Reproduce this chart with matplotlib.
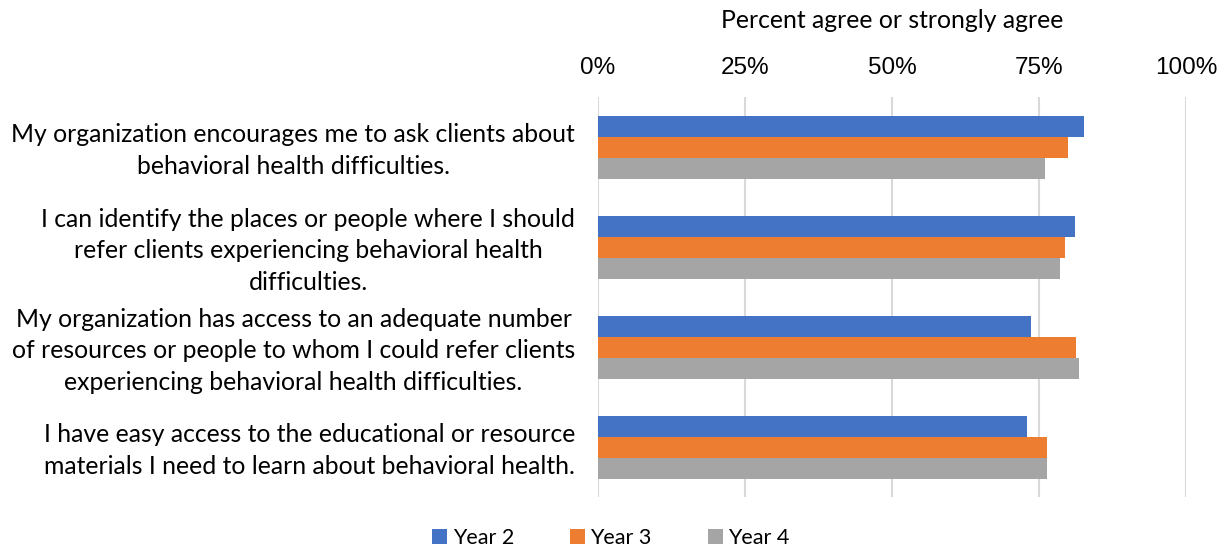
import matplotlib
matplotlib.use("Agg")
import matplotlib.pyplot as plt
import matplotlib.transforms as mtransforms
from matplotlib.patches import Patch

# Survey items (top to bottom) and percent agreeing by year
statements = [
    "My organization encourages me to ask clients about\nbehavioral health difficulties.",
    "I can identify the places or people where I should\nrefer clients experiencing behavioral health\ndifficulties.",
    "My organization has access to an adequate number\nof resources or people to whom I could refer clients\nexperiencing behavioral health difficulties.",
    "I have easy access to the educational or resource\nmaterials I need to learn about behavioral health.",
]
year2 = [82.7, 81.1, 73.6, 73.0]
year3 = [79.9, 79.4, 81.3, 76.4]
year4 = [76.0, 78.6, 81.8, 76.4]
series_labels = ["Year 2", "Year 3", "Year 4"]
series_colors = ["#4472C4", "#ED7D31", "#A5A5A5"]
xticks = [0, 25, 50, 75, 100]

label_font = ["Lato", "DejaVu Sans"]
tick_font = ["Liberation Sans Narrow", "Liberation Sans", "DejaVu Sans"]

fig = plt.figure(figsize=(12.26, 5.5), dpi=100)
ax = fig.add_axes([0.4878, 0.0955, 0.4796, 0.7273])

bar_h = 0.21
offsets = [-bar_h, 0, bar_h]
for vals, off, lab, col in zip([year2, year3, year4], offsets, series_labels, series_colors):
    ax.barh([i + off for i in range(len(statements))], vals, height=bar_h,
            color=col, label=lab, zorder=2)

ax.set_xlim(0, 100)
ax.set_ylim(len(statements) - 0.5, -0.5)

ax.xaxis.tick_top()
ax.set_xticks(xticks)
ax.set_xticklabels([f"{t}%" for t in xticks], family=tick_font, fontsize=17.5)
ax.tick_params(axis="x", length=0, pad=13)

ax.set_yticks(range(len(statements)))
ax.set_yticklabels(statements, family=label_font, fontsize=17.8,
                   multialignment="center", linespacing=1.45)
ax.tick_params(axis="y", length=0, pad=16.5)
# nudge the category labels up a touch so they sit centred on each bar group
nudge = mtransforms.ScaledTranslation(0, 3 / 100, fig.dpi_scale_trans)
for lbl in ax.get_yticklabels():
    lbl.set_transform(lbl.get_transform() + nudge)

ax.grid(axis="x", color="#d9d9d9", linewidth=1.5, zorder=0)
for side in ax.spines.values():
    side.set_visible(False)

# axis title centred over the plot area
ax_box = ax.get_position()
fig.text((ax_box.x0 + ax_box.x1) / 2, 1 - 20 / 550, "Percent agree or strongly agree",
         ha="center", va="center", family=label_font, fontsize=17.8)

handles = [Patch(facecolor=c, label=l) for l, c in zip(series_labels, series_colors)]
fig.legend(handles=handles, loc="center", bbox_to_anchor=(611 / 1226, 12 / 550),
           ncol=3, frameon=False, prop={"family": label_font, "size": 15.5},
           handlelength=0.7, handleheight=0.7, handletextpad=0.25, columnspacing=2.6)

fig.savefig("out.png", dpi=100)
